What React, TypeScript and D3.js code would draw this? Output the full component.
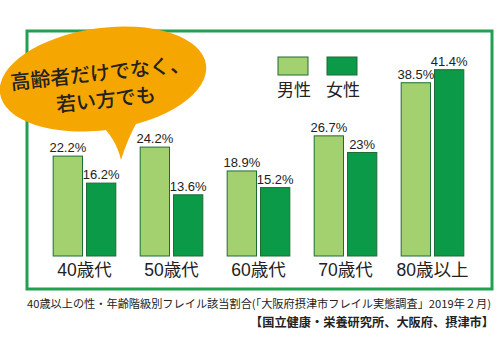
import React from "react";
import * as d3 from "d3";

const categories = ["40歳代", "50歳代", "60歳代", "70歳代", "80歳以上"];
const seriesNames = ["男性", "女性"];
const maleValues = [22.2, 24.2, 18.9, 26.7, 38.5];
const femaleValues = [16.2, 13.6, 15.2, 23, 41.4];
const valueLabelsMale = ["22.2%", "24.2%", "18.9%", "26.7%", "38.5%"];
const valueLabelsFemale = ["16.2%", "13.6%", "15.2%", "23%", "41.4%"];

const COLORS = ["#a3d16f", "#0b9a48"];
const STROKE = "#1f6b35";
const FRAME = "#22a052";
const ORANGE = "#f6a600";
const LATIN = "'Liberation Sans', Arial, 'Noto Sans CJK JP', sans-serif";
const CJK = "'Noto Sans CJK JP', 'Liberation Sans', sans-serif";

export default function App() {
  const x0 = d3.scaleBand<string>().domain(categories).range([41, 476]).paddingInner(0.28).paddingOuter(0.14);
  const x1 = d3.scaleBand<string>().domain(seriesNames).range([0, x0.bandwidth()]).paddingInner(0.12);
  const y = d3.scaleLinear().domain([0, 45]).range([256, 53.5]);
  const series = [
    { name: seriesNames[0], values: maleValues, labels: valueLabelsMale, color: COLORS[0] },
    { name: seriesNames[1], values: femaleValues, labels: valueLabelsFemale, color: COLORS[1] },
  ];
  return (
    <svg width={500} height={360} style={{ position: "absolute", left: 0, top: 0, background: "#fff" }}>
      <rect x={27} y={31} width={465} height={258} fill="#fff" stroke={FRAME} strokeWidth={3} />
      {categories.map((c, i) => (
        <g key={c} transform={`translate(${x0(c)},0)`}>
          {series.map((s) => {
            const bx = x1(s.name)!;
            const bw = x1.bandwidth();
            return (
              <g key={s.name}>
                <rect x={bx} y={y(s.values[i])} width={bw} height={y(0) - y(s.values[i])} fill={s.color} stroke={STROKE} strokeWidth={1} />
                <text x={bx + bw / 2} y={y(s.values[i]) - 4} textAnchor="middle" fontFamily={LATIN} fontSize={13} fill="#222">
                  {s.labels[i]}
                </text>
              </g>
            );
          })}
          <text x={x0.bandwidth() / 2} y={276} textAnchor="middle" fontFamily={LATIN} fontSize={17.5} fill="#222">
            {c}
          </text>
        </g>
      ))}
      {/* legend */}
      {series.map((s, i) => (
        <g key={s.name} transform={`translate(${278 + i * 49},57)`}>
          <rect x={0} y={0} width={30} height={18} fill={s.color} stroke={STROKE} strokeWidth={1} />
          <text x={16} y={39} textAnchor="middle" fontFamily={CJK} fontSize={17} fill="#222">
            {s.name}
          </text>
        </g>
      ))}
      {/* bubble */}
      <g>
        <ellipse cx={103} cy={79} rx={104} ry={51} fill={ORANGE} transform="rotate(-8,103,79)" />
        <path d="M98,122 Q116,138 121,160 Q127,140 138,120 Z" fill={ORANGE} />
        <g transform="rotate(-6,103,82)" fontFamily={CJK} fontWeight={500} fill="#222" textAnchor="middle">
          <text x={101} y={80} fontSize={20}>高齢者だけでなく、</text>
          <text x={104} y={107} fontSize={20}>若い方でも</text>
        </g>
      </g>
      {/* caption */}
      <text x={27} y={308} fontFamily={CJK} fontSize={11} fill="#222" textLength={464} lengthAdjust="spacingAndGlyphs">
        40歳以上の性・年齢階級別フレイル該当割合(「大阪府摂津市フレイル実態調査」2019年２月)
      </text>
      <text x={494} y={327} textAnchor="end" fontFamily={CJK} fontWeight={700} fontSize={12} fill="#222" textLength={244} lengthAdjust="spacingAndGlyphs">
        【国立健康・栄養研究所、大阪府、摂津市】
      </text>
    </svg>
  );
}
